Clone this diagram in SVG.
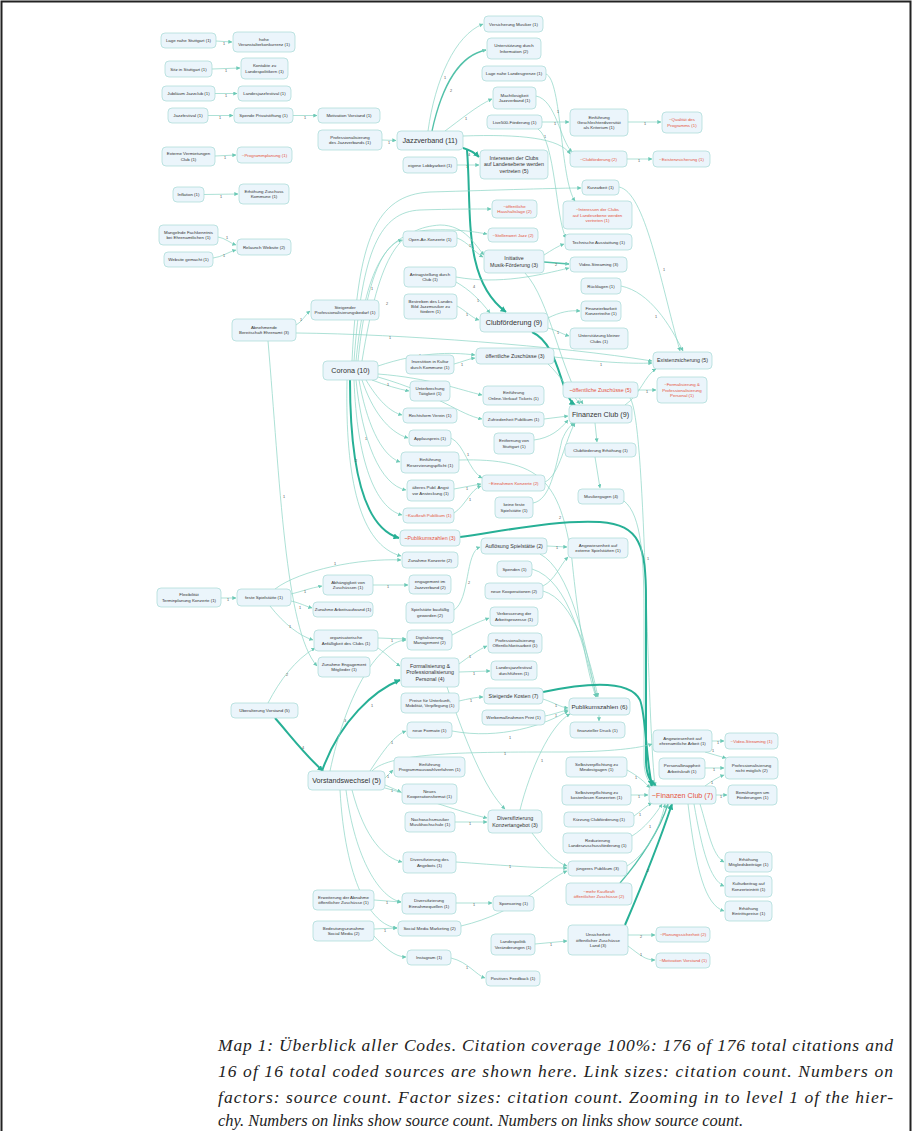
<svg xmlns="http://www.w3.org/2000/svg" width="913" height="1131" viewBox="0 0 913 1131">
<style>
.n rect{fill:#ebf5fb;stroke:#a6dad6;stroke-width:0.7}
text{font-family:"Liberation Sans",Arial,sans-serif;fill:#333;text-anchor:middle}
.s{font-size:4.4px}.m{font-size:5.3px}.l{font-size:6.2px}.xl{font-size:7.2px}
text.r{fill:#e5533b}
.e{fill:none;stroke:#8ad4c4;stroke-width:0.7;marker-end:url(#a)}
.e2{stroke:#52c1a9;stroke-width:1.3}
.e3{stroke:#27b096;stroke-width:2;marker-end:url(#b)}
.lb{font-size:3.8px;fill:#555}
.cap{font-family:"Liberation Serif","Times New Roman",serif;font-style:italic;font-size:17.5px;fill:#222;text-anchor:start}
</style>
<defs>
<marker id="a" viewBox="0 0 6 6" refX="5.5" refY="3" markerWidth="4" markerHeight="4" markerUnits="userSpaceOnUse" orient="auto"><path d="M0,0 L6,3 L0,6 z" fill="#6cc9b6"/></marker>
<marker id="b" viewBox="0 0 6 6" refX="5.5" refY="3" markerWidth="6" markerHeight="6" markerUnits="userSpaceOnUse" orient="auto"><path d="M0,0 L6,3 L0,6 z" fill="#27b096"/></marker>
</defs>
<rect x="0" y="0" width="913" height="1131" fill="#fff"/>
<path d="M1.5,1131 L1.5,1.5 L910.5,1.5 L910.5,1131" fill="none" stroke="#222" stroke-width="2"/>
<g id="connectors">
<path class="e" d="M216,41 L232,42"/><text class="lb" x="224" y="45">1</text>
<path class="e" d="M212,69 L240,68"/><text class="lb" x="226" y="72">1</text>
<path class="e" d="M215,93.5 L237,93.5"/><text class="lb" x="226" y="97">1</text>
<path class="e" d="M208,115.5 L233,115.5"/><text class="lb" x="220" y="119">1</text>
<path class="e" d="M293,115.5 L317,115.5"/><text class="lb" x="305" y="119">1</text>
<path class="e" d="M215,156 L236,155"/><text class="lb" x="225" y="159">1</text>
<path class="e" d="M204,194.5 L238,194"/><text class="lb" x="221" y="198">1</text>
<path class="e" d="M218,237 C225,238 230,243 236,245"/><text class="lb" x="227" y="239">1</text>
<path class="e" d="M213,258 C222,257 228,252 236,250"/><text class="lb" x="224" y="257">1</text>
<path class="e" d="M382,140 L396,140.5"/><text class="lb" x="389" y="144">1</text>
<path class="e" d="M296,325 C302,322 305,315 310,311"/><text class="lb" x="301" y="321">1</text>
<path class="e" d="M296,333 C400,334 560,346 652,361"/><text class="lb" x="390" y="339">1</text>
<path class="e" d="M268,341 C280,480 285,630 317,666"/><text class="lb" x="284" y="498">1</text>
<path class="e" d="M270,606 C285,625 300,636 313,640"/><text class="lb" x="290" y="628">1</text>
<path class="e" d="M268,703 C280,680 295,660 315,648"/><text class="lb" x="287" y="676">2</text>
<path class="e e3" d="M275,718 C290,735 305,755 323,771"/><text class="lb" x="303" y="749">4</text>
<path class="e" d="M221,598 L236,598"/><text class="lb" x="228" y="601">1</text>
<path class="e" d="M291,594 C300,592 310,588 322,586"/><text class="lb" x="305" y="593">1</text>
<path class="e" d="M291,601 C300,603 305,606 312,608"/><text class="lb" x="300" y="609">1</text>
<path class="e" d="M275,589 C300,570 360,558 401,560"/><text class="lb" x="335" y="565">1</text>
<path class="e" d="M373,585 L408,585"/><text class="lb" x="388" y="588">1</text>
<path class="e" d="M428,131 C435,80 455,35 483,24"/><text class="lb" x="445" y="79">1</text>
<path class="e e2" d="M432,131 C442,85 460,55 486,50"/><text class="lb" x="451" y="92">2</text>
<path class="e" d="M445,131 C460,120 478,105 492,99"/><text class="lb" x="466" y="120">1</text>
<path class="e e3" d="M463,148 C470,150 475,153 479,157"/><text class="lb" x="469" y="156">4</text>
<path class="e" d="M457,165 L479,165"/><text class="lb" x="467" y="168">1</text>
<path class="e e3" d="M467,150 C472,210 462,280 506,312"/><text class="lb" x="474" y="288">4</text>
<path class="e" d="M463,136 C520,134 560,138 570,154"/><text class="lb" x="545" y="138">1</text>
<path class="e" d="M546,74 C562,80 560,180 575,201"/><text class="lb" x="558" y="113">1</text>
<path class="e" d="M536,96 C556,100 560,140 572,152"/>
<path class="e" d="M542,122 L569,122"/><text class="lb" x="555" y="125">1</text>
<path class="e" d="M538,129 C555,140 556,220 566,238"/>
<path class="e" d="M628,122 L661,122"/><text class="lb" x="645" y="125">1</text>
<path class="e" d="M627,159 L652,159"/><text class="lb" x="639" y="162">1</text>
<path class="e" d="M619,187 C645,192 660,280 680,351"/><text class="lb" x="664" y="271">1</text>
<path class="e" d="M621,286 C650,292 670,325 683,351"/><text class="lb" x="656" y="318">1</text>
<path class="e" d="M554,357 C600,362 630,364 652,363"/><text class="lb" x="601" y="366">1</text>
<path class="e" d="M548,328 C556,330 562,334 569,336"/><text class="lb" x="558" y="334">1</text>
<path class="e" d="M625,405 C640,395 645,375 656,369"/>
<path class="e" d="M638,390 L656,390"/><text class="lb" x="647" y="393">1</text>
<path class="e" d="M630,398 C646,420 646,700 655,786"/><text class="lb" x="648" y="560">1</text>
<path class="e" d="M358,361 C365,290 380,245 402,240"/><text class="lb" x="372" y="290">1</text>
<path class="e" d="M352,361 C358,240 375,195 430,192 C500,190 560,188 581,188"/>
<path class="e" d="M354,361 C362,250 380,212 420,210 C450,209 475,209 491,209"/>
<path class="e" d="M356,361 C365,270 385,232 430,230 C460,229 475,232 487,234"/>
<path class="e" d="M362,361 C380,250 400,228 440,225 C465,225 475,245 484,255"/><text class="lb" x="387" y="305">2</text>
<path class="e" d="M456,277 C500,285 540,275 569,268"/>
<path class="e" d="M456,282 C470,290 480,300 490,313"/><text class="lb" x="478" y="302">1</text>
<path class="e" d="M457,306 C465,310 472,318 479,320"/><text class="lb" x="467" y="316">1</text>
<path class="e" d="M457,238 C468,242 474,252 483,257"/><text class="lb" x="470" y="247">1</text>
<path class="e e2" d="M544,262 L569,264"/><text class="lb" x="556" y="266">2</text>
<path class="e" d="M544,255 C552,250 558,246 564,244"/>
<path class="e" d="M525,273 C550,300 560,370 583,404"/>
<path class="e e3" d="M532,332 C560,345 560,395 575,405"/>
<path class="e" d="M548,318 C560,312 570,310 580,311"/>
<path class="e" d="M548,364 C560,375 570,392 580,404"/>
<path class="e" d="M454,364 C462,362 468,359 475,358"/><text class="lb" x="462" y="366">1</text>
<path class="e" d="M378,366 C420,352 450,352 475,355"/><text class="lb" x="420" y="357">1</text>
<path class="e" d="M372,380 C385,385 398,389 409,391"/><text class="lb" x="388" y="386">1</text>
<path class="e" d="M366,380 C378,400 390,412 402,415"/>
<path class="e" d="M362,380 C372,410 388,432 408,438"/>
<path class="e" d="M359,380 C366,420 380,455 400,462"/><text class="lb" x="366" y="440">1</text>
<path class="e" d="M356,380 C362,440 380,485 406,490"/>
<path class="e" d="M354,380 C357,460 375,508 402,515"/>
<path class="e e3" d="M350,380 C350,470 365,528 399,538"/><text class="lb" x="356" y="462">2</text>
<path class="e" d="M347,380 C345,480 360,545 401,556"/>
<path class="e" d="M378,374 C430,378 460,390 482,395"/>
<path class="e" d="M378,377 C440,395 460,415 482,419"/>
<path class="e" d="M454,513 C466,505 470,490 481,486"/><text class="lb" x="470" y="501">1</text>
<path class="e" d="M454,489 L481,484"/><text class="lb" x="467" y="490">1</text>
<path class="e" d="M459,460 C540,458 560,480 572,560 C580,640 590,680 596,697"/>
<path class="e" d="M451,438 C465,445 468,470 482,478"/><text class="lb" x="468" y="456">1</text>
<path class="e" d="M545,482 C560,475 565,440 575,423"/>
<path class="e" d="M533,503 C550,500 555,470 562,440 C566,430 570,426 574,423"/>
<path class="e" d="M534,440 C550,438 560,430 568,420"/>
<path class="e" d="M544,419 L568,416"/>
<path class="e" d="M595,423 L597,442"/>
<path class="e" d="M595,457 L600,488"/>
<path class="e e3" d="M460,537 C520,528 560,520 600,522 C640,525 646,545 646,600 L646,760 C646,775 650,782 656,786"/><text class="lb" x="560" y="519">2</text>
<path class="e" d="M624,501 C642,515 644,560 644,620 L644,760 C644,775 648,782 654,786"/>
<path class="e" d="M547,546 L567,547"/><text class="lb" x="557" y="549">1</text>
<path class="e" d="M454,610 C470,600 465,552 480,547"/><text class="lb" x="469" y="584">2</text>
<path class="e" d="M540,554 C570,570 585,640 596,697"/>
<path class="e" d="M532,569 C570,580 584,650 597,697"/>
<path class="e" d="M543,591 C575,600 590,660 598,697"/>
<path class="e" d="M543,586 C555,580 560,565 568,557"/>
<path class="e" d="M543,699 C555,703 560,707 568,708"/><text class="lb" x="556" y="707">1</text>
<path class="e" d="M545,716 C555,714 562,711 568,710"/><text class="lb" x="556" y="717">1</text>
<path class="e" d="M452,731 C500,740 545,725 568,711"/><text class="lb" x="510" y="739">1</text>
<path class="e" d="M520,810 C530,770 550,725 570,714"/><text class="lb" x="542" y="762">1</text>
<path class="e e3" d="M543,692 C590,682 630,680 640,700 C646,715 646,760 652,786"/>
<path class="e" d="M599,715 L599,721"/>
<path class="e" d="M372,771 C390,752 470,752 560,752 C610,752 640,748 652,744"/><text class="lb" x="505" y="755">1</text>
<path class="e e3" d="M322,771 C340,720 375,690 400,680"/><text class="lb" x="345" y="722">3</text>
<path class="e" d="M330,771 C345,700 375,642 406,640"/><text class="lb" x="372" y="707">1</text>
<path class="e" d="M370,771 C385,748 395,735 406,731"/><text class="lb" x="392" y="744">1</text>
<path class="e" d="M385,778 L393,770"/><text class="lb" x="388" y="778">1</text>
<path class="e" d="M385,785 L401,792"/><text class="lb" x="392" y="792">1</text>
<path class="e" d="M385,788 C430,800 460,812 487,818"/>
<path class="e" d="M352,790 C365,840 385,858 402,862"/>
<path class="e" d="M346,790 C355,860 380,898 401,902"/>
<path class="e" d="M340,790 C345,880 370,925 397,928"/>
<path class="e" d="M455,822 L487,822"/><text class="lb" x="470" y="825">1</text>
<path class="e" d="M447,687 C465,740 485,790 505,809"/>
<path class="e" d="M459,664 C470,656 478,650 487,646"/><text class="lb" x="470" y="658">1</text>
<path class="e" d="M459,672 L490,671"/><text class="lb" x="474" y="675">1</text>
<path class="e" d="M459,701 C468,699 476,697 483,697"/><text class="lb" x="471" y="702">1</text>
<path class="e" d="M378,638 L406,639"/><text class="lb" x="392" y="642">1</text>
<path class="e" d="M378,648 C388,655 394,662 400,666"/>
<path class="e" d="M452,635 C465,628 478,622 489,618"/>
<path class="e" d="M456,862 C500,865 530,868 567,868"/><text class="lb" x="510" y="868">1</text>
<path class="e" d="M532,833 C545,850 555,862 567,866"/>
<path class="e" d="M627,770 C638,776 645,782 650,788"/><text class="lb" x="636" y="779">1</text>
<path class="e" d="M631,795 L648,795"/><text class="lb" x="639" y="798">1</text>
<path class="e" d="M634,816 C640,812 646,806 652,803"/><text class="lb" x="640" y="816">1</text>
<path class="e" d="M632,836 C645,828 655,815 662,804"/><text class="lb" x="650" y="828">1</text>
<path class="e e3" d="M625,925 C640,890 660,840 672,804"/><text class="lb" x="648" y="872">2</text>
<path class="e e2" d="M620,883 C640,860 660,830 668,804"/>
<path class="e" d="M627,866 C645,855 660,830 665,804"/>
<path class="e" d="M716,795 L727,795"/><text class="lb" x="721" y="798">1</text>
<path class="e" d="M705,786 C712,781 718,777 724,775"/><text class="lb" x="712" y="784">1</text>
<path class="e" d="M705,768 L724,768"/><text class="lb" x="714" y="771">1</text>
<path class="e" d="M712,741 L724,741"/><text class="lb" x="718" y="744">1</text>
<path class="e" d="M705,752 C712,754 718,756 726,758"/><text class="lb" x="713" y="752">1</text>
<path class="e" d="M700,804 C708,830 712,855 724,862"/>
<path class="e" d="M694,804 C702,850 710,880 724,886"/>
<path class="e" d="M688,804 C696,870 705,905 724,911"/>
<path class="e" d="M628,935 L655,935"/><text class="lb" x="641" y="938">2</text>
<path class="e" d="M628,946 C640,955 645,960 655,960"/><text class="lb" x="641" y="956">1</text>
<path class="e" d="M535,944 L567,941"/><text class="lb" x="551" y="946">1</text>
<path class="e" d="M456,903 L492,903"/><text class="lb" x="474" y="906">1</text>
<path class="e" d="M374,900 L401,902"/><text class="lb" x="387" y="904">1</text>
<path class="e" d="M374,929 L397,928"/><text class="lb" x="385" y="932">1</text>
<path class="e" d="M374,936 C385,948 395,957 406,957"/>
<path class="e" d="M451,958 C468,962 476,975 485,978"/><text class="lb" x="467" y="969">1</text>
<path class="e" d="M461,926 C520,912 545,880 567,871"/>
</g>
<g id="n1" class="n"><rect x="161" y="33" width="55" height="15" rx="4"/><text class="s" x="188.5" y="42.1">Lage nahe Stuttgart (1)</text></g>
<g id="n2" class="n"><rect x="233" y="32" width="62" height="20" rx="4"/><text class="s" x="264" y="40.9"><tspan x="264">hohe</tspan><tspan x="264" dy="5.3">Veranstalterkonkurrenz (1)</tspan></text></g>
<g id="n3" class="n"><rect x="165" y="61" width="47" height="16" rx="4"/><text class="s" x="188.5" y="70.5">Sitz in Stuttgart (1)</text></g>
<g id="n4" class="n"><rect x="241" y="58" width="47" height="21" rx="4"/><text class="s" x="264.5" y="67.4"><tspan x="264.5">Kontakte zu</tspan><tspan x="264.5" dy="5.3">Landespolitikern (1)</tspan></text></g>
<g id="n5" class="n"><rect x="162" y="86" width="53" height="15" rx="4"/><text class="s" x="188.5" y="95">Jubiläum Jazzclub (1)</text></g>
<g id="n6" class="n"><rect x="238" y="86" width="53" height="15" rx="4"/><text class="s" x="264.5" y="95">Landesjazzfestival (1)</text></g>
<g id="n7" class="n"><rect x="168" y="108" width="40" height="15" rx="4"/><text class="s" x="188" y="117">Jazzfestival (1)</text></g>
<g id="n8" class="n"><rect x="234" y="108" width="59" height="15" rx="4"/><text class="s" x="263.5" y="117">Spende Privatstiftung (1)</text></g>
<g id="n9" class="n"><rect x="318" y="108" width="62" height="15" rx="4"/><text class="s" x="349" y="117">Motivation Vorstand (1)</text></g>
<g id="n10" class="n"><rect x="318" y="130" width="64" height="20" rx="4"/><text class="s" x="350" y="138.9"><tspan x="350">Professionalisierung</tspan><tspan x="350" dy="5.3">des Jazzverbands (1)</tspan></text></g>
<g id="n11" class="n"><rect x="162" y="147" width="53" height="19" rx="4"/><text class="s" x="188.5" y="155.4"><tspan x="188.5">Externe Vermietungen</tspan><tspan x="188.5" dy="5.3">Club (1)</tspan></text></g>
<g id="n12" class="n"><rect x="237" y="147" width="55" height="16" rx="4"/><text class="s r" x="264.5" y="156.5">~Programmplanung (1)</text></g>
<g id="n13" class="n"><rect x="173" y="187" width="31" height="15" rx="4"/><text class="s" x="188.5" y="196">Inflation (1)</text></g>
<g id="n14" class="n"><rect x="239" y="184" width="50" height="20" rx="4"/><text class="s" x="264" y="192.9"><tspan x="264">Erhöhung Zuschuss</tspan><tspan x="264" dy="5.3">Kommune (1)</tspan></text></g>
<g id="n15" class="n"><rect x="159" y="225" width="59" height="20" rx="4"/><text class="s" x="188.5" y="233.9"><tspan x="188.5">Mangelnde Fachkenntnis</tspan><tspan x="188.5" dy="5.3">bei Ehrenamtlichen (1)</tspan></text></g>
<g id="n16" class="n"><rect x="164" y="252" width="49" height="15" rx="4"/><text class="s" x="188.5" y="261">Website gemacht (1)</text></g>
<g id="n17" class="n"><rect x="237" y="239" width="54" height="16" rx="4"/><text class="s" x="264" y="248.5">Relaunch Website (2)</text></g>
<g id="n18" class="n"><rect x="232" y="319" width="64" height="22" rx="4"/><text class="s" x="264" y="328.9"><tspan x="264">Abnehmende</tspan><tspan x="264" dy="5.3">Bereitschaft Ehrenamt (3)</tspan></text></g>
<g id="n19" class="n"><rect x="311" y="300" width="68" height="20" rx="4"/><text class="s" x="345" y="308.9"><tspan x="345">Steigender</tspan><tspan x="345" dy="5.3">Professionalisierungsbedarf (1)</tspan></text></g>
<g id="n20" class="n"><rect x="323" y="361" width="55" height="19" rx="4"/><text class="xl" x="350.5" y="373">Corona (10)</text></g>
<g id="n21" class="n"><rect x="484" y="16" width="59" height="16" rx="4"/><text class="s" x="513.5" y="25.5">Versicherung Musiker (1)</text></g>
<g id="n22" class="n"><rect x="487" y="38" width="54" height="21" rx="4"/><text class="s" x="514" y="47.4"><tspan x="514">Unterstützung durch</tspan><tspan x="514" dy="5.3">Information (2)</tspan></text></g>
<g id="n23" class="n"><rect x="482" y="66" width="64" height="15" rx="4"/><text class="s" x="514" y="75">Lage nahe Landesgrenze (1)</text></g>
<g id="n24" class="n"><rect x="493" y="87" width="43" height="22" rx="4"/><text class="s" x="514.5" y="96.9"><tspan x="514.5">Machtlosigkeit</tspan><tspan x="514.5" dy="5.3">Jazzverband (1)</tspan></text></g>
<g id="n25" class="n"><rect x="487" y="115" width="55" height="14" rx="4"/><text class="s" x="514.5" y="123.5">Live500-Förderung (1)</text></g>
<g id="n26" class="n"><rect x="397" y="131" width="66" height="19" rx="4"/><text class="xl" x="430" y="143">Jazzverband (11)</text></g>
<g id="n27" class="n"><rect x="403" y="157" width="54" height="16" rx="4"/><text class="s" x="430" y="166.5">eigene Lobbyarbeit (1)</text></g>
<g id="n28" class="n"><rect x="480" y="150" width="68" height="29" rx="4"/><text class="m" x="514" y="160.2"><tspan x="514">Interessen der Clubs</tspan><tspan x="514" dy="6.2">auf Landesebene werden</tspan><tspan x="514" dy="6.2">vertreten (5)</tspan></text></g>
<g id="n29" class="n"><rect x="492" y="200" width="45" height="18" rx="4"/><text class="s r" x="514.5" y="207.9"><tspan x="514.5">~öffentliche</tspan><tspan x="514.5" dy="5.3">Haushaltslage (2)</tspan></text></g>
<g id="n30" class="n"><rect x="570" y="109" width="58" height="27" rx="4"/><text class="s" x="599" y="118.7"><tspan x="599">Einführung</tspan><tspan x="599" dy="5.3">Geschlechterdiversität</tspan><tspan x="599" dy="5.3">als Kriterium (1)</tspan></text></g>
<g id="n31" class="n"><rect x="662" y="112" width="40" height="21" rx="4"/><text class="s r" x="682" y="121.4"><tspan x="682">~Qualität des</tspan><tspan x="682" dy="5.3">Programms (1)</tspan></text></g>
<g id="n32" class="n"><rect x="570" y="151" width="57" height="16" rx="4"/><text class="s r" x="598.5" y="160.5">~Clubförderung (2)</text></g>
<g id="n33" class="n"><rect x="653" y="151" width="57" height="16" rx="4"/><text class="s r" x="681.5" y="160.5">~Existenzsicherung (1)</text></g>
<g id="n34" class="n"><rect x="582" y="180" width="37" height="15" rx="4"/><text class="s" x="600.5" y="189">Kurzarbeit (1)</text></g>
<g id="n35" class="n"><rect x="563" y="201" width="69" height="28" rx="4"/><text class="s r" x="597.5" y="211.2"><tspan x="597.5">~Interessen der Clubs</tspan><tspan x="597.5" dy="5.3">auf Landesebene werden</tspan><tspan x="597.5" dy="5.3">vertreten (1)</tspan></text></g>
<g id="n36" class="n"><rect x="488" y="228" width="50" height="14" rx="4"/><text class="s r" x="513" y="236.5">~Stellenwert Jazz (2)</text></g>
<g id="n37" class="n"><rect x="403" y="231" width="54" height="16" rx="4"/><text class="s" x="430" y="240.5">Open-Air-Konzerte (1)</text></g>
<g id="n38" class="n"><rect x="484" y="250" width="60" height="23" rx="4"/><text class="m" x="514" y="260.3"><tspan x="514">Initiative</tspan><tspan x="514" dy="6.2">Musik-Förderung (3)</tspan></text></g>
<g id="n39" class="n"><rect x="404" y="267" width="52" height="20" rx="4"/><text class="s" x="430" y="275.9"><tspan x="430">Antragstellung durch</tspan><tspan x="430" dy="5.3">Club (1)</tspan></text></g>
<g id="n40" class="n"><rect x="404" y="294" width="53" height="25" rx="4"/><text class="s" x="430.5" y="302.7"><tspan x="430.5">Bestreben des Landes</tspan><tspan x="430.5" dy="5.3">Bild Jazzmusiker zu</tspan><tspan x="430.5" dy="5.3">fördern (1)</tspan></text></g>
<g id="n41" class="n"><rect x="480" y="313" width="68" height="19" rx="4"/><text class="xl" x="514" y="325">Clubförderung (9)</text></g>
<g id="n42" class="n"><rect x="476" y="348" width="78" height="16" rx="4"/><text class="m" x="515" y="357.9">öffentliche Zuschüsse (3)</text></g>
<g id="n43" class="n"><rect x="406" y="355" width="48" height="19" rx="4"/><text class="s" x="430" y="363.4"><tspan x="430">Investition in Kultur</tspan><tspan x="430" dy="5.3">durch Kommune (1)</tspan></text></g>
<g id="n44" class="n"><rect x="410" y="381" width="40" height="20" rx="4"/><text class="s" x="430" y="389.9"><tspan x="430">Unterbrechung</tspan><tspan x="430" dy="5.3">Tätigkeit (1)</tspan></text></g>
<g id="n45" class="n"><rect x="483" y="386" width="61" height="19" rx="4"/><text class="s" x="513.5" y="394.4"><tspan x="513.5">Einführung</tspan><tspan x="513.5" dy="5.3">Online-Verkauf Tickets (1)</tspan></text></g>
<g id="n46" class="n"><rect x="403" y="408" width="54" height="15" rx="4"/><text class="s" x="430" y="417">Rechtsform Verein (1)</text></g>
<g id="n47" class="n"><rect x="483" y="412" width="61" height="15" rx="4"/><text class="s" x="513.5" y="421">Zufriedenheit Publikum (1)</text></g>
<g id="n48" class="n"><rect x="569" y="405" width="63" height="18" rx="4"/><text class="xl" x="600.5" y="416.5">Finanzen Club (9)</text></g>
<g id="n49" class="n"><rect x="565" y="234" width="67" height="16" rx="4"/><text class="s" x="598.5" y="243.5">Technische Ausstattung (1)</text></g>
<g id="n50" class="n"><rect x="570" y="257" width="57" height="15" rx="4"/><text class="s" x="598.5" y="266">Video-Streaming (3)</text></g>
<g id="n51" class="n"><rect x="581" y="278" width="40" height="16" rx="4"/><text class="s" x="601" y="287.5">Rücklagen (1)</text></g>
<g id="n52" class="n"><rect x="581" y="301" width="40" height="20" rx="4"/><text class="s" x="601" y="309.9"><tspan x="601">Finanzierbarkeit</tspan><tspan x="601" dy="5.3">Konzertreihe (1)</tspan></text></g>
<g id="n53" class="n"><rect x="570" y="328" width="58" height="21" rx="4"/><text class="s" x="599" y="337.4"><tspan x="599">Unterstützung kleiner</tspan><tspan x="599" dy="5.3">Clubs (1)</tspan></text></g>
<g id="n54" class="n"><rect x="653" y="352" width="59" height="17" rx="4"/><text class="m" x="682.5" y="362.4">Existenzsicherung (5)</text></g>
<g id="n55" class="n"><rect x="563" y="382" width="75" height="16" rx="4"/><text class="m r" x="600.5" y="391.9">~öffentliche Zuschüsse (5)</text></g>
<g id="n56" class="n"><rect x="657" y="377" width="50" height="26" rx="4"/><text class="s r" x="682" y="386.2"><tspan x="682">~Formalisierung &amp;</tspan><tspan x="682" dy="5.3">Professionalisierung</tspan><tspan x="682" dy="5.3">Personal (1)</tspan></text></g>
<g id="n57" class="n"><rect x="409" y="430" width="42" height="16" rx="4"/><text class="s" x="430" y="439.5">Applauspreis (1)</text></g>
<g id="n58" class="n"><rect x="494" y="433" width="40" height="21" rx="4"/><text class="s" x="514" y="442.4"><tspan x="514">Entfernung von</tspan><tspan x="514" dy="5.3">Stuttgart (1)</tspan></text></g>
<g id="n59" class="n"><rect x="401" y="452" width="58" height="21" rx="4"/><text class="s" x="430" y="461.4"><tspan x="430">Einführung</tspan><tspan x="430" dy="5.3">Reservierungspflicht (1)</tspan></text></g>
<g id="n60" class="n"><rect x="482" y="475" width="63" height="16" rx="4"/><text class="s r" x="513.5" y="484.5">~Einnahmen Konzerte (2)</text></g>
<g id="n61" class="n"><rect x="407" y="480" width="47" height="21" rx="4"/><text class="s" x="430.5" y="489.4"><tspan x="430.5">älteres Publ. Angst</tspan><tspan x="430.5" dy="5.3">vor Ansteckung (1)</tspan></text></g>
<g id="n62" class="n"><rect x="495" y="497" width="38" height="21" rx="4"/><text class="s" x="514" y="506.4"><tspan x="514">keine feste</tspan><tspan x="514" dy="5.3">Spielstätte (1)</tspan></text></g>
<g id="n63" class="n"><rect x="403" y="508" width="51" height="15" rx="4"/><text class="s r" x="428.5" y="517">~Kaufkraft Publikum (1)</text></g>
<g id="n64" class="n"><rect x="400" y="530" width="60" height="16" rx="4"/><text class="m r" x="430" y="539.9">~Publikumszahlen (3)</text></g>
<g id="n65" class="n"><rect x="481" y="538" width="66" height="16" rx="4"/><text class="m" x="514" y="547.9">Auflösung Spielstätte (2)</text></g>
<g id="n66" class="n"><rect x="402" y="552" width="56" height="16" rx="4"/><text class="s" x="430" y="561.5">Zunahme Konzerte (2)</text></g>
<g id="n67" class="n"><rect x="497" y="561" width="35" height="16" rx="4"/><text class="s" x="514.5" y="570.5">Spenden (1)</text></g>
<g id="n68" class="n"><rect x="409" y="575" width="42" height="19" rx="4"/><text class="s" x="430" y="583.4"><tspan x="430">engagement im</tspan><tspan x="430" dy="5.3">Jazzverband (2)</tspan></text></g>
<g id="n69" class="n"><rect x="485" y="583" width="58" height="16" rx="4"/><text class="s" x="514" y="592.5">neue Kooperationen (2)</text></g>
<g id="n70" class="n"><rect x="406" y="602" width="48" height="21" rx="4"/><text class="s" x="430" y="611.4"><tspan x="430">Spielstätte baufällig</tspan><tspan x="430" dy="5.3">geworden (2)</tspan></text></g>
<g id="n71" class="n"><rect x="490" y="607" width="48" height="19" rx="4"/><text class="s" x="514" y="615.4"><tspan x="514">Verbesserung der</tspan><tspan x="514" dy="5.3">Arbeitsprozesse (1)</tspan></text></g>
<g id="n72" class="n"><rect x="565" y="443" width="71" height="14" rx="4"/><text class="s" x="600.5" y="451.5">Clubförderung Erhöhung (1)</text></g>
<g id="n73" class="n"><rect x="578" y="489" width="46" height="15" rx="4"/><text class="s" x="601" y="498">Musikergagen (4)</text></g>
<g id="n74" class="n"><rect x="568" y="538" width="60" height="20" rx="4"/><text class="s" x="598" y="546.9"><tspan x="598">Angewiesenheit auf</tspan><tspan x="598" dy="5.3">externe Spielstätten (1)</tspan></text></g>
<g id="n75" class="n"><rect x="157" y="588" width="64" height="19" rx="4"/><text class="s" x="189" y="596.4"><tspan x="189">Flexibilität</tspan><tspan x="189" dy="5.3">Terminplanung Konzerte (1)</tspan></text></g>
<g id="n76" class="n"><rect x="237" y="589" width="54" height="17" rx="4"/><text class="s" x="264" y="599">feste Spielstätte (1)</text></g>
<g id="n77" class="n"><rect x="323" y="575" width="50" height="20" rx="4"/><text class="s" x="348" y="583.9"><tspan x="348">Abhängigkeit von</tspan><tspan x="348" dy="5.3">Zuschüssen (1)</tspan></text></g>
<g id="n78" class="n"><rect x="313" y="602" width="60" height="15" rx="4"/><text class="s" x="343" y="611">Zunahme Arbeitsaufwand (1)</text></g>
<g id="n79" class="n"><rect x="314" y="630" width="64" height="21" rx="4"/><text class="s" x="346" y="639.4"><tspan x="346">organisatorische</tspan><tspan x="346" dy="5.3">Anfälligkeit des Clubs (1)</tspan></text></g>
<g id="n80" class="n"><rect x="318" y="657" width="52" height="20" rx="4"/><text class="s" x="344" y="665.9"><tspan x="344">Zunahme Engagement</tspan><tspan x="344" dy="5.3">Mitglieder (1)</tspan></text></g>
<g id="n81" class="n"><rect x="231" y="703" width="67" height="15" rx="4"/><text class="s" x="264.5" y="712">Überalterung Vorstand (5)</text></g>
<g id="n82" class="n"><rect x="308" y="771" width="77" height="19" rx="4"/><text class="xl" x="346.5" y="783">Vorstandswechsel (5)</text></g>
<g id="n83" class="n"><rect x="407" y="630" width="45" height="20" rx="4"/><text class="s" x="429.5" y="638.9"><tspan x="429.5">Digitalisierung</tspan><tspan x="429.5" dy="5.3">Management (2)</tspan></text></g>
<g id="n84" class="n"><rect x="488" y="633" width="54" height="20" rx="4"/><text class="s" x="515" y="641.9"><tspan x="515">Professionalisierung</tspan><tspan x="515" dy="5.3">Öffentlichkeitsarbeit (1)</tspan></text></g>
<g id="n85" class="n"><rect x="401" y="658" width="58" height="29" rx="4"/><text class="m" x="430" y="668.2"><tspan x="430">Formalisierung &amp;</tspan><tspan x="430" dy="6.2">Professionalisierung</tspan><tspan x="430" dy="6.2">Personal (4)</tspan></text></g>
<g id="n86" class="n"><rect x="491" y="661" width="46" height="19" rx="4"/><text class="s" x="514" y="669.4"><tspan x="514">Landesjazzfestival</tspan><tspan x="514" dy="5.3">durchführen (1)</tspan></text></g>
<g id="n87" class="n"><rect x="484" y="688" width="59" height="16" rx="4"/><text class="m" x="513.5" y="697.9">Steigende Kosten (7)</text></g>
<g id="n88" class="n"><rect x="401" y="693" width="58" height="20" rx="4"/><text class="s" x="430" y="701.9"><tspan x="430">Preise für Unterkunft,</tspan><tspan x="430" dy="5.3">Mobilität, Verpflegung (1)</tspan></text></g>
<g id="n89" class="n"><rect x="482" y="710" width="63" height="15" rx="4"/><text class="s" x="513.5" y="719">Werbemaßnahmen Print (1)</text></g>
<g id="n90" class="n"><rect x="569" y="698" width="61" height="17" rx="4"/><text class="l" x="599.5" y="708.7">Publikumszahlen (6)</text></g>
<g id="n91" class="n"><rect x="407" y="722" width="45" height="16" rx="4"/><text class="s" x="429.5" y="731.5">neue Formate (1)</text></g>
<g id="n92" class="n"><rect x="570" y="722" width="55" height="16" rx="4"/><text class="s" x="597.5" y="731.5">finanzieller Druck (1)</text></g>
<g id="n93" class="n"><rect x="394" y="757" width="71" height="20" rx="4"/><text class="s" x="429.5" y="765.9"><tspan x="429.5">Einführung</tspan><tspan x="429.5" dy="5.3">Programmauswahlverfahren (1)</tspan></text></g>
<g id="n94" class="n"><rect x="402" y="784" width="55" height="20" rx="4"/><text class="s" x="429.5" y="792.9"><tspan x="429.5">Neues</tspan><tspan x="429.5" dy="5.3">Kooperationsformat (1)</tspan></text></g>
<g id="n95" class="n"><rect x="405" y="812" width="50" height="20" rx="4"/><text class="s" x="430" y="820.9"><tspan x="430">Nachwuchsmusiker</tspan><tspan x="430" dy="5.3">Musikhochschule (1)</tspan></text></g>
<g id="n96" class="n"><rect x="488" y="810" width="54" height="23" rx="4"/><text class="m" x="515" y="820.3"><tspan x="515">Diversifizierung</tspan><tspan x="515" dy="6.2">Konzertangebot (3)</tspan></text></g>
<g id="n97" class="n"><rect x="653" y="730" width="59" height="22" rx="4"/><text class="s" x="682.5" y="739.9"><tspan x="682.5">Angewiesenheit auf</tspan><tspan x="682.5" dy="5.3">ehrenamtliche Arbeit (1)</tspan></text></g>
<g id="n98" class="n"><rect x="725" y="733" width="53" height="16" rx="4"/><text class="s r" x="751.5" y="742.5">~Video-Streaming (1)</text></g>
<g id="n99" class="n"><rect x="659" y="758" width="46" height="21" rx="4"/><text class="s" x="682" y="767.4"><tspan x="682">Personalknappheit</tspan><tspan x="682" dy="5.3">Arbeitskraft (1)</tspan></text></g>
<g id="n100" class="n"><rect x="725" y="757" width="53" height="22" rx="4"/><text class="s" x="751.5" y="766.9"><tspan x="751.5">Professionalisierung</tspan><tspan x="751.5" dy="5.3">nicht möglich (2)</tspan></text></g>
<g id="n101" class="n"><rect x="566" y="757" width="61" height="20" rx="4"/><text class="s" x="596.5" y="765.9"><tspan x="596.5">Selbstverpflichtung zu</tspan><tspan x="596.5" dy="5.3">Mindestgagen (1)</tspan></text></g>
<g id="n102" class="n"><rect x="562" y="785" width="69" height="20" rx="4"/><text class="s" x="596.5" y="793.9"><tspan x="596.5">Selbstverpflichtung zu</tspan><tspan x="596.5" dy="5.3">kostenlosen Konzerten (1)</tspan></text></g>
<g id="n103" class="n"><rect x="649" y="786" width="67" height="18" rx="4"/><text class="xl r" x="682.5" y="797.5">~Finanzen Club (7)</text></g>
<g id="n104" class="n"><rect x="728" y="785" width="49" height="20" rx="4"/><text class="s" x="752.5" y="793.9"><tspan x="752.5">Bemühungen um</tspan><tspan x="752.5" dy="5.3">Förderungen (1)</tspan></text></g>
<g id="n105" class="n"><rect x="564" y="812" width="70" height="15" rx="4"/><text class="s" x="599" y="821">Kürzung Clubförderung (1)</text></g>
<g id="n106" class="n"><rect x="563" y="833" width="69" height="20" rx="4"/><text class="s" x="597.5" y="841.9"><tspan x="597.5">Reduzierung</tspan><tspan x="597.5" dy="5.3">Landeszuschussförderung (1)</tspan></text></g>
<g id="n107" class="n"><rect x="403" y="852" width="53" height="21" rx="4"/><text class="s" x="429.5" y="861.4"><tspan x="429.5">Diversifizierung des</tspan><tspan x="429.5" dy="5.3">Angebots (1)</tspan></text></g>
<g id="n108" class="n"><rect x="568" y="861" width="59" height="15" rx="4"/><text class="s" x="597.5" y="870">jüngeres Publikum (3)</text></g>
<g id="n109" class="n"><rect x="725" y="852" width="47" height="20" rx="4"/><text class="s" x="748.5" y="860.9"><tspan x="748.5">Erhöhung</tspan><tspan x="748.5" dy="5.3">Mitgliedsbeiträge (1)</tspan></text></g>
<g id="n110" class="n"><rect x="566" y="883" width="66" height="22" rx="4"/><text class="s r" x="599" y="892.9"><tspan x="599">~mehr Kaufkraft</tspan><tspan x="599" dy="5.3">öffentlicher Zuschüsse (2)</tspan></text></g>
<g id="n111" class="n"><rect x="725" y="876" width="47" height="21" rx="4"/><text class="s" x="748.5" y="885.4"><tspan x="748.5">Kulturbeitrag auf</tspan><tspan x="748.5" dy="5.3">Konzerteintritt (1)</tspan></text></g>
<g id="n112" class="n"><rect x="725" y="901" width="47" height="20" rx="4"/><text class="s" x="748.5" y="909.9"><tspan x="748.5">Erhöhung</tspan><tspan x="748.5" dy="5.3">Eintrittspreise (1)</tspan></text></g>
<g id="n113" class="n"><rect x="313" y="890" width="61" height="20" rx="4"/><text class="s" x="343.5" y="898.9"><tspan x="343.5">Erweiterung der Abnahme</tspan><tspan x="343.5" dy="5.3">öffentlicher Zuschüsse (1)</tspan></text></g>
<g id="n114" class="n"><rect x="402" y="893" width="54" height="21" rx="4"/><text class="s" x="429" y="902.4"><tspan x="429">Diversifizierung</tspan><tspan x="429" dy="5.3">Einnahmequellen (1)</tspan></text></g>
<g id="n115" class="n"><rect x="493" y="896" width="41" height="15" rx="4"/><text class="s" x="513.5" y="905">Sponsoring (1)</text></g>
<g id="n116" class="n"><rect x="398" y="921" width="63" height="15" rx="4"/><text class="s" x="429.5" y="930">Social Media Marketing (2)</text></g>
<g id="n117" class="n"><rect x="313" y="921" width="61" height="20" rx="4"/><text class="s" x="343.5" y="929.9"><tspan x="343.5">Bedeutungszunahme</tspan><tspan x="343.5" dy="5.3">Social Media (2)</tspan></text></g>
<g id="n118" class="n"><rect x="491" y="934" width="44" height="21" rx="4"/><text class="s" x="513" y="943.4"><tspan x="513">Landespolitik</tspan><tspan x="513" dy="5.3">Veränderungen (1)</tspan></text></g>
<g id="n119" class="n"><rect x="568" y="925" width="60" height="30" rx="4"/><text class="s" x="598" y="936.2"><tspan x="598">Unsicherheit</tspan><tspan x="598" dy="5.3">öffentlicher Zuschüsse</tspan><tspan x="598" dy="5.3">Land (3)</tspan></text></g>
<g id="n120" class="n"><rect x="656" y="927" width="54" height="15" rx="4"/><text class="s r" x="683" y="936">~Planungssicherheit (2)</text></g>
<g id="n121" class="n"><rect x="656" y="953" width="54" height="15" rx="4"/><text class="s r" x="683" y="962">~Motivation Vorstand (1)</text></g>
<g id="n122" class="n"><rect x="407" y="950" width="44" height="15" rx="4"/><text class="s" x="429" y="959">Instagram (1)</text></g>
<g id="n123" class="n"><rect x="486" y="971" width="54" height="15" rx="4"/><text class="s" x="513" y="980">Positives Feedback (1)</text></g>
<g id="caption">
<text class="cap" x="218" y="1051" textLength="675" lengthAdjust="spacing">Map 1: Überblick aller Codes. Citation coverage 100%: 176 of 176 total citations and</text>
<text class="cap" x="218" y="1077" textLength="675" lengthAdjust="spacing">16 of 16 total coded sources are shown here. Link sizes: citation count. Numbers on</text>
<text class="cap" x="218" y="1103" textLength="675" lengthAdjust="spacing">factors: source count. Factor sizes: citation count. Zooming in to level 1 of the hier-</text>
<text class="cap" x="218" y="1126" textLength="525" lengthAdjust="spacingAndGlyphs">chy. Numbers on links show source count. Numbers on links show source count.</text>
</g>
</svg>
